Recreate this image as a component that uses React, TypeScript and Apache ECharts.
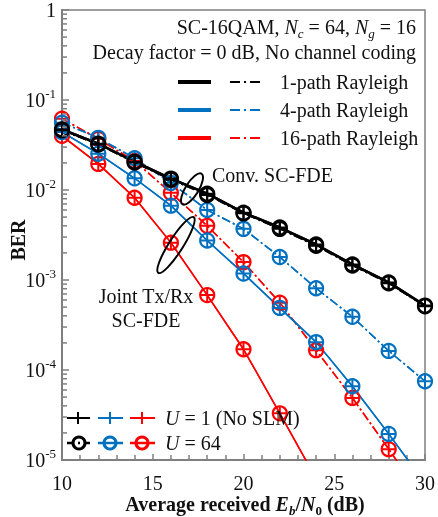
import React, { useEffect, useRef } from "react";
import * as echarts from "echarts";

const snr = [10, 12, 14, 16, 18, 20, 22, 24, 26, 28, 30];
// Joint Tx/Rx SC-FDE (solid) and Conv. SC-FDE (dash-dot)
const joint1 = [0.047, 0.0327, 0.0206, 0.0134, 0.0091, 0.0056, 0.00383, 0.00248, 0.00149, 0.00094, 0.00052];
const conv1 = [0.046, 0.032, 0.0202, 0.013, 0.0088, 0.0055, 0.0037, 0.0024, 0.00145, 0.00092, 0.00051];
const joint4 = [0.044, 0.0253, 0.0135, 0.0067, 0.00275, 0.00118, 0.00049, 0.000204, 0.000066, 0.0000195, 0.0000055];
const conv4 = [0.056, 0.038, 0.0225, 0.012, 0.006, 0.0037, 0.0018, 0.00081, 0.00039, 0.000163, 0.000075];
const joint16 = [0.04, 0.0195, 0.0082, 0.0026, 0.00068, 0.00017, 0.000033, 0.0000062, null, null, null];
const conv16 = [0.062, 0.037, 0.021, 0.0093, 0.004, 0.00158, 0.00056, 0.000166, 0.000049, 0.0000132, 0.0000035];
const yTicks = [1e-5, 1e-4, 1e-3, 1e-2, 1e-1, 1];
const xTicks = [10, 15, 20, 25, 30];

const BLACK = "#000000";
const BLUE = "#0070C0";
const RED = "#FF0000";
const FONT = "Liberation Serif";
const PLUS = "path://M5,0 L5,10 M0,5 L10,5";
const DASHDOT = [9, 3, 2, 3];

const curves = [
  { name: "conv16", data: conv16, color: RED, dash: true, width: 1.5 },
  { name: "joint16", data: joint16, color: RED, dash: false, width: 1.5 },
  { name: "conv4", data: conv4, color: BLUE, dash: true, width: 1.5 },
  { name: "joint4", data: joint4, color: BLUE, dash: false, width: 1.5 },
  { name: "conv1", data: conv1, color: BLACK, dash: true, width: 1.5 },
  { name: "joint1", data: joint1, color: BLACK, dash: false, width: 2.5 },
];

function pairs(vals: (number | null)[]) {
  const out: number[][] = [];
  vals.forEach((v, i) => {
    if (v != null) out.push([snr[i], v]);
  });
  return out;
}

const base = { fontFamily: FONT, fontSize: 20, lineHeight: 26, fill: "#111" };
const rich = {
  r: { fontFamily: FONT, fontSize: 20, lineHeight: 26 },
  i: { fontFamily: FONT, fontSize: 20, lineHeight: 26, fontStyle: "italic" },
  sub: { fontFamily: FONT, fontSize: 13, lineHeight: 13, verticalAlign: "bottom", fontStyle: "italic" },
  subn: { fontFamily: FONT, fontSize: 13, lineHeight: 13, verticalAlign: "bottom" },
  b: { fontFamily: FONT, fontSize: 20, lineHeight: 26, fontWeight: "bold" },
  bi: { fontFamily: FONT, fontSize: 20, lineHeight: 26, fontWeight: "bold", fontStyle: "italic" },
  bsub: { fontFamily: FONT, fontSize: 13, lineHeight: 13, verticalAlign: "bottom", fontWeight: "bold", fontStyle: "italic" },
  bsubn: { fontFamily: FONT, fontSize: 13, lineHeight: 13, verticalAlign: "bottom", fontWeight: "bold" },
};

function text(x: number, y: number, t: string, align = "left", extra: any = {}) {
  return {
    type: "text",
    x,
    y,
    z: 100,
    ...extra,
    style: { ...base, text: t, rich, align, verticalAlign: "middle", fill: "#111" },
  };
}

function hline(x1: number, x2: number, y: number, color: string, width: number, dash?: number[]) {
  return {
    type: "line",
    z: 100,
    shape: { x1, y1: y, x2, y2: y },
    style: { stroke: color, lineWidth: width, lineDash: dash || null },
  };
}

function plusMark(x: number, y: number, color: string, s = 6) {
  return [
    { type: "line", z: 101, shape: { x1: x - s, y1: y, x2: x + s, y2: y }, style: { stroke: color, lineWidth: 2 } },
    { type: "line", z: 101, shape: { x1: x, y1: y - s, x2: x, y2: y + s }, style: { stroke: color, lineWidth: 2 } },
  ];
}

function circleMark(x: number, y: number, color: string) {
  return { type: "circle", z: 101, shape: { cx: x, cy: y, r: 6 }, style: { fill: "none", stroke: color, lineWidth: 3 } };
}

function staticGraphics(): any[] {
  const g: any[] = [];
  // Titles
  g.push(text(416, 27, "{r|SC-16QAM, }{i|N}{sub|c}{r| = 64, }{i|N}{sub|g}{r| = 16}", "right"));
  g.push(text(416, 52, "{r|Decay factor = 0 dB, No channel coding}", "right"));
  // Top legend
  const rows = [
    { y: 82, c: BLACK, t: "1-path Rayleigh" },
    { y: 110, c: BLUE, t: "4-path Rayleigh" },
    { y: 138, c: RED, t: "16-path Rayleigh" },
  ];
  rows.forEach((r) => {
    g.push(hline(178, 211, r.y, r.c, 4));
    g.push(hline(230, 262, r.y, r.c, 2, [10, 4, 2, 4]));
    g.push(text(280, r.y, "{r|" + r.t + "}"));
  });
  // Bottom legend
  const y1 = 418;
  const y2 = 443;
  g.push(hline(67, 90, y1, BLACK, 2, [7, 4, 2, 4]));
  g.push(...plusMark(78, y1, BLACK));
  g.push(hline(98, 123, y1, BLUE, 2));
  g.push(...plusMark(110, y1, BLUE));
  g.push(hline(130, 155, y1, RED, 2));
  g.push(...plusMark(142, y1, RED));
  g.push(text(165, y1, "{i|U}{r| = 1 (No SLM)}"));
  g.push(hline(67, 90, y2, BLACK, 2.5, [7, 4, 2, 4]));
  g.push(circleMark(79, y2, BLACK));
  g.push(hline(98, 123, y2, BLUE, 2.5));
  g.push(circleMark(110, y2, BLUE));
  g.push(hline(130, 155, y2, RED, 2.5));
  g.push(circleMark(142, y2, RED));
  g.push(text(165, y2, "{i|U}{r| = 64}"));
  // Annotations
  g.push(text(212, 175, "{r|Conv. SC-FDE}"));
  g.push(text(146, 296, "{r|Joint Tx/Rx}", "center"));
  g.push(text(146, 320, "{r|SC-FDE}", "center"));
  g.push({
    type: "ellipse",
    z: 100,
    x: 192,
    y: 189,
    rotation: (58 * Math.PI) / 180,
    shape: { cx: 0, cy: 0, rx: 18, ry: 6.5 },
    style: { fill: "none", stroke: BLACK, lineWidth: 2 },
  });
  g.push({
    type: "ellipse",
    z: 100,
    x: 176,
    y: 245,
    rotation: (57.5 * Math.PI) / 180,
    shape: { cx: 0, cy: 0, rx: 33, ry: 7 },
    style: { fill: "none", stroke: BLACK, lineWidth: 2 },
  });
  // Axis titles
  g.push({
    type: "text",
    x: 18,
    y: 240,
    rotation: Math.PI / 2,
    z: 100,
    style: { text: "BER", fontFamily: FONT, fontSize: 20, fontWeight: "bold", fill: "#111", align: "center", verticalAlign: "middle" },
  });
  g.push(
    text(245, 504, "{b|Average received }{bi|E}{bsub|b}{b|/}{bi|N}{bsubn|0}{b| (dB)}", "center")
  );
  return g;
}

export default function App() {
  const ref = useRef<HTMLDivElement>(null);
  useEffect(() => {
    if (!ref.current) return;
    const chart = echarts.init(ref.current, null, { renderer: "svg" });
    const series: any[] = [];
    curves.forEach((c) => {
      const lineStyle = { color: c.color, width: c.width, type: c.dash ? DASHDOT : "solid" };
      series.push({
        name: c.name + "-U64",
        type: "line",
        data: pairs(c.data),
        symbol: "circle",
        symbolSize: 14,
        showSymbol: true,
        clip: true,
        lineStyle,
        itemStyle: { color: "rgba(0,0,0,0)", borderColor: c.color, borderWidth: 2.2 },
        emphasis: { disabled: true },
      });
      series.push({
        name: c.name + "-U1",
        type: "line",
        data: pairs(c.data),
        symbol: PLUS,
        symbolSize: 13,
        showSymbol: true,
        clip: true,
        lineStyle,
        itemStyle: { color: c.color, borderColor: c.color, borderWidth: 2 },
        emphasis: { disabled: true },
      });
    });
    const axisColor = "#7f7f7f";
    const option: any = {
      animation: false,
      grid: { left: 62, top: 9, right: 10, bottom: 57, show: true, borderColor: axisColor, borderWidth: 1.5, backgroundColor: "transparent" },
      xAxis: {
        type: "value",
        min: 10,
        max: 30,
        interval: 5,
        axisLine: { show: true, lineStyle: { color: axisColor, width: 2 } },
        axisTick: { show: true, inside: true, length: 6, lineStyle: { color: axisColor, width: 1.5 } },
        minorTick: { show: true, splitNumber: 5, length: 5, lineStyle: { color: axisColor, width: 1.5 } },
        splitLine: { show: false },
        axisLabel: {
          color: "#111",
          fontFamily: FONT,
          fontSize: 20,
          margin: 13,
          formatter: (v: number) => (xTicks.includes(v) ? String(v) : ""),
        },
      },
      yAxis: {
        type: "log",
        logBase: 10,
        min: yTicks[0],
        max: yTicks[yTicks.length - 1],
        axisLine: { show: true, lineStyle: { color: axisColor, width: 2 } },
        axisTick: { show: true, inside: true, length: 7, lineStyle: { color: axisColor, width: 1.5 } },
        splitLine: { show: false },
        axisLabel: {
          color: "#111",
          margin: 6,
          formatter: (v: number) => {
            const e = Math.round(Math.log10(v));
            return e === 0 ? "{n|1}" : "{n|10}{s|" + e + "}";
          },
          rich: {
            n: { fontFamily: FONT, fontSize: 20, lineHeight: 26, color: "#111" },
            s: { fontFamily: FONT, fontSize: 13, lineHeight: 13, verticalAlign: "top", color: "#111" },
          },
        },
      },
      series,
      graphic: staticGraphics(),
    };
    chart.setOption(option);
    // Log minor ticks (2..9 within each decade), placed through the axis scales
    const minor: any[] = [];
    const x0 = chart.convertToPixel({ xAxisIndex: 0 }, 10) as number;
    for (let d = -5; d < 0; d++) {
      for (let k = 2; k <= 9; k++) {
        const yy = chart.convertToPixel({ yAxisIndex: 0 }, k * Math.pow(10, d)) as number;
        minor.push({
          type: "line",
          z: 50,
          shape: { x1: x0, y1: yy, x2: x0 + 5, y2: yy },
          style: { stroke: axisColor, lineWidth: 1.5 },
        });
      }
    }
    chart.setOption({ graphic: [...staticGraphics(), ...minor] }, { replaceMerge: ["graphic"] });
    return () => chart.dispose();
  }, []);
  return <div ref={ref} style={{ position: "fixed", left: 0, top: 0, width: 438, height: 517 }} />;
}
